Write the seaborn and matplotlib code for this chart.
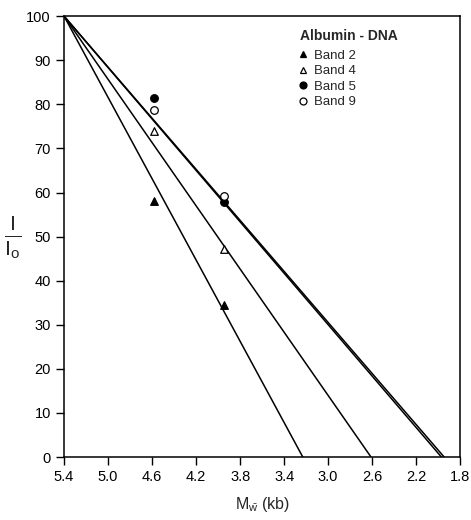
import matplotlib
matplotlib.use("Agg")
import matplotlib.pyplot as plt
import seaborn as sns
import pandas as pd
from matplotlib.lines import Line2D

# Data
bands = ["Band 2", "Band 4", "Band 5", "Band 9"]
point_mw = [4.58, 3.945]
band2_vals = [58.0, 34.5]
band4_vals = [74.0, 47.3]
band5_vals = [81.5, 57.8]
band9_vals = [78.8, 59.2]
origin_mw = 5.4
origin_val = 100.0
intercepts = [3.23, 2.61, 1.97, 1.945]  # Mw where each fitted line reaches 0

x_ticks = [5.4, 5.0, 4.6, 4.2, 3.8, 3.4, 3.0, 2.6, 2.2, 1.8]
x_tick_labels = ["5.4", "5.0", "4.6", "4.2", "3.8", "3.4", "3.0", "2.6", "2.2", "1.8"]
y_ticks = [0, 10, 20, 30, 40, 50, 60, 70, 80, 90, 100]

vals = [band2_vals, band4_vals, band5_vals, band9_vals]
pts = pd.DataFrame({
    "band": [b for b in bands for _ in point_mw],
    "mw": point_mw * len(bands),
    "I": [v for vs in vals for v in vs],
})
lines = pd.DataFrame({
    "band": [b for b in bands for _ in range(2)],
    "mw": [m for ic in intercepts for m in (origin_mw, ic)],
    "I": [v for _ in intercepts for v in (origin_val, 0.0)],
})

sns.set_style("ticks")
plt.rcParams["font.family"] = ["Liberation Sans", "DejaVu Sans"]
plt.rcParams["mathtext.fontset"] = "custom"
plt.rcParams["mathtext.rm"] = "Liberation Sans"
plt.rcParams["mathtext.it"] = "Liberation Sans"

fig = plt.figure(figsize=(4.71, 5.20), dpi=100)
ax = fig.add_axes([0.136, 0.121, 0.841, 0.848])

sns.lineplot(data=lines, x="mw", y="I", units="band", estimator=None,
             color="black", linewidth=1.1, ax=ax, legend=False, sort=False)

styles = {
    "Band 2": dict(marker="^", facecolor="black"),
    "Band 4": dict(marker="^", facecolor="white"),
    "Band 5": dict(marker="o", facecolor="black"),
    "Band 9": dict(marker="o", facecolor="white"),
}
for b in bands:
    sub = pts[pts["band"] == b]
    st = styles[b]
    sns.scatterplot(data=sub, x="mw", y="I", marker=st["marker"], s=30,
                    facecolor=st["facecolor"], edgecolor="black", linewidth=0.9,
                    ax=ax, zorder=3, legend=False)

ax.set_xlim(5.4, 1.8)
ax.set_ylim(0, 100)
ax.set_xticks(x_ticks)
ax.set_xticklabels(x_tick_labels)
ax.set_yticks(y_ticks)
ax.tick_params(direction="out", length=6, width=1, labelsize=10.5, colors="black")
for sp in ax.spines.values():
    sp.set_visible(True)
    sp.set_linewidth(1.1)
    sp.set_color("black")

ax.set_xlabel(r"M$_{\bar{\mathrm{w}}}$ (kb)", fontsize=11.5, labelpad=8)
ax.set_ylabel(r"$\frac{\mathrm{I}}{\mathrm{I_o}}$", fontsize=22, rotation=0, labelpad=10, va="center")

ax.text(0.72, 0.955, "Albumin - DNA", transform=ax.transAxes, ha="center", va="center",
        fontsize=10, fontweight="bold")

handles = []
for b in bands:
    st = styles[b]
    handles.append(Line2D([], [], linestyle="none", marker=st["marker"], markersize=5,
                          markerfacecolor=st["facecolor"], markeredgecolor="black",
                          markeredgewidth=0.9, label=b))
ax.legend(handles=handles, loc="upper left", bbox_to_anchor=(0.56, 0.945), frameon=False,
          fontsize=9.5, handletextpad=0.2, labelspacing=0.25, handlelength=1.2,
          borderpad=0.2)

fig.savefig("out.png", dpi=100)
